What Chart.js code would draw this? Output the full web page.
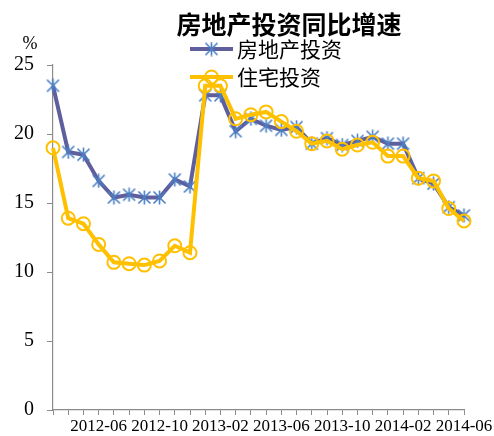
<!DOCTYPE html>
<html>
<head>
<meta charset="utf-8">
<style>
  html, body { margin: 0; padding: 0; background: #ffffff; }
  #wrap { width: 494px; height: 436px; }
</style>
<script src="https://cdn.jsdelivr.net/npm/chart.js@4/dist/chart.umd.min.js"></script>
</head>
<body>
<div id="wrap"><canvas id="chart" width="494" height="436"></canvas></div>
<script>
// Monthly cumulative year-on-year growth (%), 2012-03 .. 2014-06
const categories = [
  '2012-03', '2012-04', '2012-05', '2012-06', '2012-07', '2012-08', '2012-09',
  '2012-10', '2012-11', '2012-12', '2013-01', '2013-02', '2013-03', '2013-04',
  '2013-05', '2013-06', '2013-07', '2013-08', '2013-09', '2013-10', '2013-11',
  '2013-12', '2014-01', '2014-02', '2014-03', '2014-04', '2014-05', '2014-06'
];
const realEstateInvestment = [
  23.5, 18.7, 18.5, 16.6, 15.4, 15.6, 15.4, 15.4, 16.7, 16.2,
  22.8, 22.8, 20.2, 21.1, 20.6, 20.3, 20.5, 19.3, 19.7, 19.2, 19.5, 19.8,
  19.3, 19.3, 16.8, 16.4, 14.7, 14.1
];
const residentialInvestment = [
  19.0, 13.9, 13.5, 12.0, 10.7, 10.6, 10.5, 10.8, 11.9, 11.4,
  23.5, 23.5, 21.1, 21.4, 21.6, 20.9, 20.2, 19.3, 19.5, 18.9, 19.2, 19.4,
  18.4, 18.4, 16.8, 16.6, 14.6, 13.7
];
const tickLabels = ['2012-06', '2012-10', '2013-02', '2013-06', '2013-10', '2014-02', '2014-06'];
const seriesNames = ['房地产投资', '住宅投资'];
const chartTitle = '房地产投资同比增速';
const yUnit = '%';

const PURPLE = '#5f5f9e';
const STAR_BLUE = '#4a7fc4';
const GOLD = '#ffc000';

// Asterisk marker: an X crossed by a vertical stroke
function makeAsterisk(size, color, lw) {
  const c = document.createElement('canvas');
  c.width = size; c.height = size;
  const g = c.getContext('2d');
  g.strokeStyle = color;
  g.lineWidth = lw;
  g.lineCap = 'butt';
  const m = size / 2, a = 1.5, b = size - 1.5;
  g.beginPath();
  g.moveTo(a, a); g.lineTo(b, b);
  g.moveTo(b, a); g.lineTo(a, b);
  g.moveTo(m, 0.5); g.lineTo(m, size - 0.5);
  g.stroke();
  return c;
}
const asterisk = makeAsterisk(15, STAR_BLUE, 1.6);

// Title, unit label and in-plot legend
const overlay = {
  id: 'overlay',
  afterDraw(chart) {
    const ctx = chart.ctx;
    ctx.save();
    ctx.fillStyle = '#000';
    ctx.textBaseline = 'middle';

    ctx.font = 'bold 25px "Noto Sans CJK SC"';
    ctx.textAlign = 'center';
    ctx.fillText(chartTitle, 289, 24);

    ctx.font = '18px "Liberation Serif"';
    ctx.fillText(yUnit, 30, 44);

    const rows = [
      { y: 49, ds: chart.data.datasets[0] },
      { y: 77, ds: chart.data.datasets[1] }
    ];
    rows.forEach(r => {
      ctx.strokeStyle = r.ds.borderColor;
      ctx.lineWidth = r.ds.borderWidth;
      ctx.beginPath();
      ctx.moveTo(190, r.y); ctx.lineTo(233, r.y);
      ctx.stroke();
      if (r.ds.pointStyle === 'circle') {
        ctx.lineWidth = r.ds.pointBorderWidth;
        ctx.beginPath();
        ctx.arc(211.5, r.y, r.ds.pointRadius, 0, Math.PI * 2);
        ctx.stroke();
      } else {
        ctx.drawImage(r.ds.pointStyle, 211.5 - r.ds.pointStyle.width / 2, r.y - r.ds.pointStyle.height / 2);
      }
      ctx.font = '21px "Noto Sans CJK SC"';
      ctx.textAlign = 'left';
      ctx.fillStyle = '#000';
      ctx.fillText(r.ds.label, 237, r.y);
    });
    ctx.restore();
  }
};

new Chart(document.getElementById('chart'), {
  type: 'line',
  data: {
    labels: categories,
    datasets: [
      {
        label: seriesNames[0],
        data: realEstateInvestment,
        borderColor: PURPLE,
        borderWidth: 4,
        pointStyle: asterisk,
        pointBorderColor: STAR_BLUE,
        tension: 0,
        clip: false,
        order: 1
      },
      {
        label: seriesNames[1],
        data: residentialInvestment,
        borderColor: GOLD,
        borderWidth: 4,
        pointStyle: 'circle',
        pointRadius: 6.5,
        pointBorderWidth: 2,
        pointBorderColor: GOLD,
        pointBackgroundColor: 'rgba(0,0,0,0)',
        tension: 0,
        clip: false,
        order: 0
      }
    ]
  },
  options: {
    responsive: false,
    animation: false,
    devicePixelRatio: 1,
    layout: { padding: { top: 65, right: 30, bottom: 0, left: 0 } },
    plugins: {
      legend: { display: false },
      title: { display: false },
      tooltip: { enabled: false }
    },
    scales: {
      x: {
        type: 'category',
        offset: false,
        grid: { display: true, drawOnChartArea: false, drawTicks: true, tickLength: 5, color: '#8c8c8c' },
        border: { display: true, color: '#8c8c8c', width: 1.2 },
        ticks: {
          autoSkip: false,
          maxRotation: 0,
          minRotation: 0,
          padding: 1,
          color: '#000',
          font: { family: 'Liberation Serif', size: 17 },
          callback(value, index) {
            const lab = categories[index];
            return tickLabels.includes(lab) ? lab : '';
          }
        },
        afterFit(scale) { scale.height = 26; }
      },
      y: {
        min: 0,
        max: 25,
        grid: { display: true, drawOnChartArea: false, drawTicks: true, tickLength: 6, color: '#8c8c8c' },
        border: { display: true, color: '#8c8c8c', width: 1.2 },
        ticks: {
          stepSize: 5,
          padding: 13,
          color: '#000',
          font: { family: 'Liberation Serif', size: 20 }
        },
        afterFit(scale) { scale.width = 53; }
      }
    }
  },
  plugins: [overlay]
});
</script>
</body>
</html>
